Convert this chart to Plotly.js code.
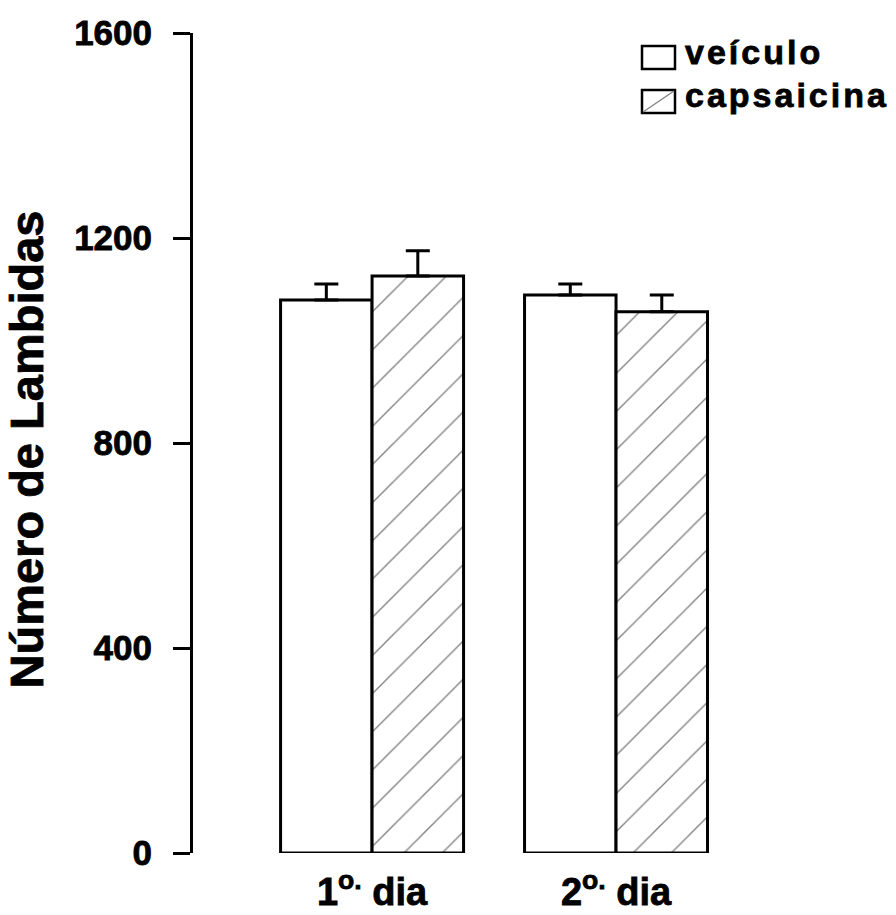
<!DOCTYPE html>
<html>
<head>
<meta charset="utf-8">
<script src="https://cdn.plot.ly/plotly-3.0.1.min.js"></script>
<style>
html, body { margin:0; padding:0; background:#fff; }
#chart { width:896px; height:915px; }
.annotation-text { letter-spacing: 3px; }
.xtick text, .ytick text, .ytitle, .annotation-text { stroke:#000; stroke-width:0.8px; }
</style>
</head>
<body>
<div id="chart"></div>
<script>
// ---- data ----
var categories = ["1<sup>o.</sup> dia", "2<sup>o.</sup> dia"];
var seriesNames = ["veículo", "capsaicina"];
var veiculoValues = [1079, 1089];
var veiculoErrors = [31, 21];
var capsaicinaValues = [1126, 1056];
var capsaicinaErrors = [49, 33];
var yTickValues = [0, 400, 800, 1200, 1600];
var yTickLabels = ["0", "400", "800", "1200", "1600"];

var FONT = "Liberation Sans, Arial, sans-serif";

var traceVeh = {
  type: "bar", name: seriesNames[0], x: categories, y: veiculoValues,
  marker: { color: "#ffffff", line: { color: "#000000", width: 3 } },
  error_y: { type: "data", array: veiculoErrors, arrayminus: [0, 0], symmetric: false,
             color: "#000000", thickness: 3, width: 12 },
  showlegend: false
};
var traceCap = {
  type: "bar", name: seriesNames[1], x: categories, y: capsaicinaValues,
  marker: { color: "#ffffff", line: { color: "#000000", width: 3 },
            pattern: { shape: "/", fgcolor: "#808080", bgcolor: "#ffffff", size: 27, solidity: 0.05 } },
  error_y: { type: "data", array: capsaicinaErrors, arrayminus: [0, 0], symmetric: false,
             color: "#000000", thickness: 3, width: 12 },
  showlegend: false
};

// plot area geometry (pixels) for placing the hand-made legend
var L = 193, T = 33, W = 667, H = 820;
function px(x) { return (x - L) / W; }
function py(y) { return (T + H - y) / H; }

var shapes = [
  { type: "rect", xref: "paper", yref: "paper", x0: px(642), x1: px(675), y0: py(69), y1: py(46),
    line: { color: "#000", width: 2.5 }, fillcolor: "#fff" },
  { type: "rect", xref: "paper", yref: "paper", x0: px(642), x1: px(675), y0: py(113), y1: py(90),
    line: { color: "#000", width: 2.5 }, fillcolor: "#fff" },
  { type: "line", xref: "paper", yref: "paper", x0: px(643), x1: px(674), y0: py(112), y1: py(91),
    line: { color: "#808080", width: 1.3 } }
];
var annotations = [
  { xref: "paper", yref: "paper", x: px(683), y: py(52), xanchor: "left", yanchor: "middle",
    text: seriesNames[0], showarrow: false, font: { family: FONT, size: 34, weight: 700, color: "#000" } },
  { xref: "paper", yref: "paper", x: px(683), y: py(95), xanchor: "left", yanchor: "middle",
    text: seriesNames[1], showarrow: false, font: { family: FONT, size: 34, weight: 700, color: "#000" } }
];

var layout = {
  width: 896, height: 915,
  margin: { l: L, r: 896 - L - W, t: T, b: 915 - T - H, pad: 0 },
  paper_bgcolor: "#fff", plot_bgcolor: "#fff",
  barmode: "group", bargap: 0.25, bargroupgap: 0,
  showlegend: false,
  xaxis: {
    type: "category", range: [-0.734, 2.0], showgrid: false, zeroline: false,
    showline: false, ticks: "", ticklabelstandoff: 13,
    tickfont: { family: FONT, size: 38, weight: 700, color: "#000" }
  },
  yaxis: {
    range: [0, 1600], showgrid: false, zeroline: false,
    showline: true, linecolor: "#000", linewidth: 3,
    ticks: "outside", ticklen: 17, tickwidth: 3, tickcolor: "#000",
    tickvals: yTickValues, ticktext: yTickLabels, ticklabelstandoff: 14,
    tickfont: { family: FONT, size: 35, weight: 700, color: "#000" },
    title: { text: "Número de Lambidas&nbsp;", standoff: 16,
             font: { family: FONT, size: 47, weight: 700, color: "#000" } }
  },
  shapes: shapes,
  annotations: annotations
};

Plotly.newPlot("chart", [traceVeh, traceCap], layout, { staticPlot: true, displayModeBar: false });
</script>
</body>
</html>
